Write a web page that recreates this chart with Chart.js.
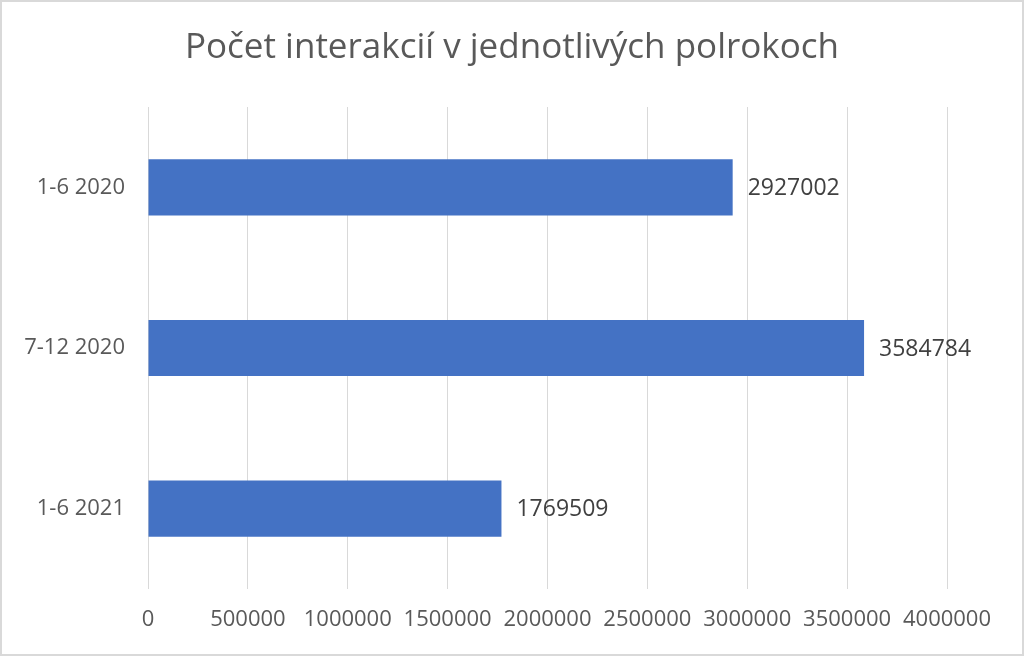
<!DOCTYPE html>
<html>
<head>
<meta charset="utf-8">
<script src="https://cdn.jsdelivr.net/npm/chart.js@4"></script>
<style>
  html, body { margin: 0; padding: 0; background: #fff; }
  #wrap { position: relative; width: 1024px; height: 656px; box-sizing: border-box; border: 2px solid #d9d9d9; }
</style>
</head>
<body>
<div id="wrap"><canvas id="c" width="1020" height="652"></canvas></div>
<script>
// Dáta grafu
const categories = ['1-6 2020', '7-12 2020', '1-6 2021'];
const interactions = [2927002, 3584784, 1769509];
const xTicks = [0, 500000, 1000000, 1500000, 2000000, 2500000, 3000000, 3500000, 4000000];
const chartTitle = 'Počet interakcií v jednotlivých polrokoch';

const FONT = "'Open Sans', sans-serif";

// titulok centrovaný na celú šírku (layout padding by ho posunul)
const centeredTitle = {
  id: 'centeredTitle',
  afterDraw(chart) {
    const ctx = chart.ctx;
    ctx.save();
    ctx.font = '35px ' + FONT;
    ctx.fillStyle = '#595959';
    ctx.textAlign = 'center';
    ctx.textBaseline = 'middle';
    ctx.fillText(chartTitle, chart.width / 2, 46);
    ctx.restore();
  }
};

// popisky hodnôt vedľa stĺpcov
const valueLabels = {
  id: 'valueLabels',
  afterDatasetsDraw(chart) {
    const ctx = chart.ctx;
    const meta = chart.getDatasetMeta(0);
    ctx.save();
    ctx.font = '23px ' + FONT;
    ctx.fillStyle = '#404040';
    ctx.textAlign = 'left';
    ctx.textBaseline = 'middle';
    meta.data.forEach((bar, i) => {
      ctx.fillText(String(interactions[i]), bar.x + 15, bar.y + 1);
    });
    ctx.restore();
  }
};

new Chart(document.getElementById('c'), {
  type: 'bar',
  data: {
    labels: categories,
    datasets: [{
      data: interactions,
      backgroundColor: '#4472C4',
      borderWidth: 0,
      categoryPercentage: 1,
      barPercentage: 0.35
    }]
  },
  options: {
    indexAxis: 'y',
    responsive: false,
    animation: false,
    layout: { padding: { left: 0, right: 75, top: 105, bottom: 0 } },
    plugins: {
      legend: { display: false },
      tooltip: { enabled: false },
      title: { display: false }
    },
    scales: {
      x: {
        min: 0,
        max: 4000000,
        afterBuildTicks(axis) { axis.ticks = xTicks.map(v => ({ value: v })); },
        afterFit(axis) { axis.height = 65; },
        grid: { color: '#d9d9d9', lineWidth: 1, drawTicks: false },
        border: { display: false },
        ticks: {
          color: '#595959',
          font: { family: FONT, size: 22 },
          padding: 18,
          maxRotation: 0,
          autoSkip: false,
          callback: (v) => String(v)
        }
      },
      y: {
        afterFit(axis) { axis.width = 146; },
        grid: { display: false, drawTicks: false },
        border: { display: false },
        ticks: {
          color: '#595959',
          font: { family: FONT, size: 22 },
          padding: 23
        }
      }
    }
  },
  plugins: [valueLabels, centeredTitle]
});
</script>
</body>
</html>
